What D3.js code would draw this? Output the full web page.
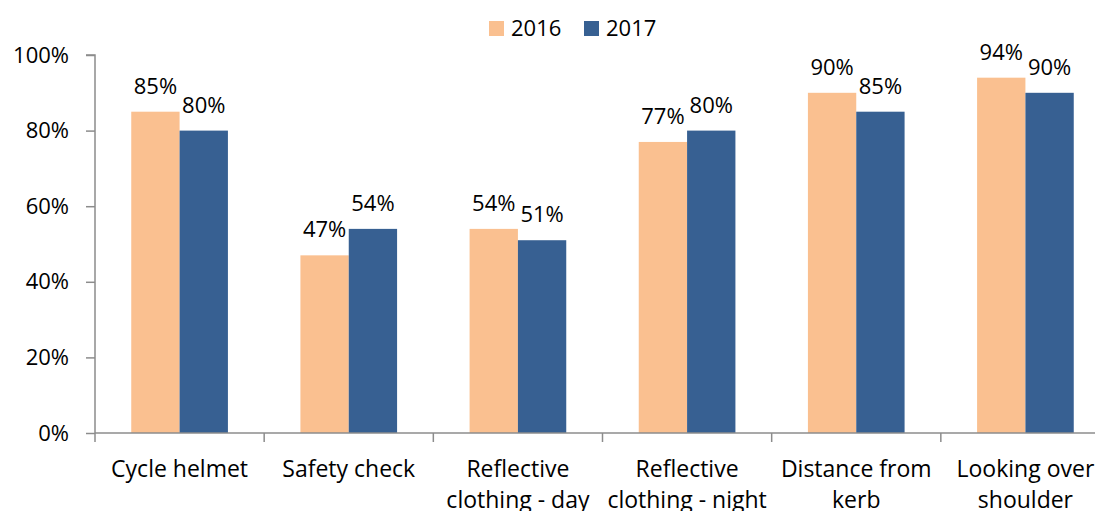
<!DOCTYPE html>
<html>
<head>
<meta charset="utf-8">
<script src="https://cdn.jsdelivr.net/npm/d3@7"></script>
<style>
  html, body { margin: 0; padding: 0; background: #fff; }
  svg text { font-family: "Open Sans", sans-serif; fill: #000; }
</style>
</head>
<body>
<svg id="chart" width="1095" height="511"></svg>
<script>
// Cycling safety behaviours, share of respondents by year
const categories = [
  ["Cycle helmet"],
  ["Safety check"],
  ["Reflective", "clothing - day"],
  ["Reflective", "clothing - night"],
  ["Distance from", "kerb"],
  ["Looking over", "shoulder"]
];
const seriesNames = ["2016", "2017"];
const values2016 = [85, 47, 54, 77, 90, 94];
const values2017 = [80, 54, 51, 80, 85, 90];
const yTicks = [0, 20, 40, 60, 80, 100];
const colors = { "2016": "#FAC090", "2017": "#376092" };

const seriesValues = { "2016": values2016, "2017": values2017 };
const catKeys = categories.map(c => c.join(" "));

const svg = d3.select("#chart");
const margin = { left: 95, top: 55, bottom: 433, right: 1110 };
const fontSize = 22;

const x0 = d3.scaleBand().domain(catKeys).range([margin.left, margin.right]).padding(0);
const x1 = d3.scaleBand().domain(seriesNames).range([0, x0.bandwidth()])
  .paddingInner(0).paddingOuter(0.75);
const y = d3.scaleLinear().domain([0, 100]).range([margin.bottom, margin.top]);

// Bars
const groups = svg.append("g").selectAll("g")
  .data(catKeys)
  .join("g")
  .attr("transform", d => `translate(${x0(d)},0)`);

groups.selectAll("rect")
  .data((d, i) => seriesNames.map(s => ({ s, v: seriesValues[s][i] })))
  .join("rect")
  .attr("x", d => x1(d.s))
  .attr("y", d => y(d.v))
  .attr("width", x1.bandwidth())
  .attr("height", d => y(0) - y(d.v))
  .attr("fill", d => colors[d.s]);

// Value labels
groups.selectAll("text.val")
  .data((d, i) => seriesNames.map(s => ({ s, v: seriesValues[s][i] })))
  .join("text")
  .attr("class", "val")
  .attr("x", d => x1(d.s) + x1.bandwidth() / 2)
  .attr("y", d => y(d.v) - 18)
  .attr("text-anchor", "middle")
  .style("font-size", fontSize + "px")
  .text(d => d.v + "%");

// Y axis
const yAxis = svg.append("g")
  .attr("transform", `translate(${margin.left},0)`)
  .call(d3.axisLeft(y).tickValues(yTicks).tickSize(9).tickPadding(17)
    .tickFormat(d => d + "%"));
yAxis.select(".domain").attr("stroke", "#8c8c8c").attr("stroke-width", 1.5)
  .attr("d", `M-9,${y(100)}H0V${y(0)}`);
yAxis.selectAll(".tick line").attr("stroke", "#8c8c8c").attr("stroke-width", 1.5);
yAxis.selectAll(".tick text").style("font-size", fontSize + "px")
  .attr("font-family", "Open Sans").attr("fill", "#000");

// X axis
const xAxis = svg.append("g")
  .attr("transform", `translate(0,${margin.bottom})`);
xAxis.append("path")
  .attr("d", `M${margin.left},0H${margin.right}`)
  .attr("stroke", "#8c8c8c").attr("stroke-width", 1.5).attr("fill", "none");
xAxis.selectAll("line.tk")
  .data(catKeys.concat(["end"]))
  .join("line")
  .attr("class", "tk")
  .attr("x1", (d, i) => i < catKeys.length ? x0(d) : margin.right)
  .attr("x2", (d, i) => i < catKeys.length ? x0(d) : margin.right)
  .attr("y1", 0).attr("y2", 9)
  .attr("stroke", "#8c8c8c").attr("stroke-width", 1.5);

xAxis.selectAll("text.cat")
  .data(categories)
  .join("text")
  .attr("class", "cat")
  .attr("text-anchor", "middle")
  .style("font-size", "23px")
  .attr("transform", (d, i) => `translate(${x0(catKeys[i]) + x0.bandwidth() / 2},44)`)
  .selectAll("tspan")
  .data(d => d)
  .join("tspan")
  .attr("x", 0)
  .attr("dy", (d, i) => i === 0 ? 0 : 31)
  .text(d => d);

// Legend
const legend = svg.append("g").attr("transform", "translate(489,21)");
const legendItems = legend.selectAll("g")
  .data(seriesNames)
  .join("g")
  .attr("transform", (d, i) => `translate(${i * 95},0)`);
legendItems.append("rect")
  .attr("width", 15).attr("height", 15)
  .attr("fill", d => colors[d]);
legendItems.append("text")
  .attr("x", 22).attr("y", 15)
  .style("font-size", fontSize + "px")
  .text(d => d);
</script>
</body>
</html>
